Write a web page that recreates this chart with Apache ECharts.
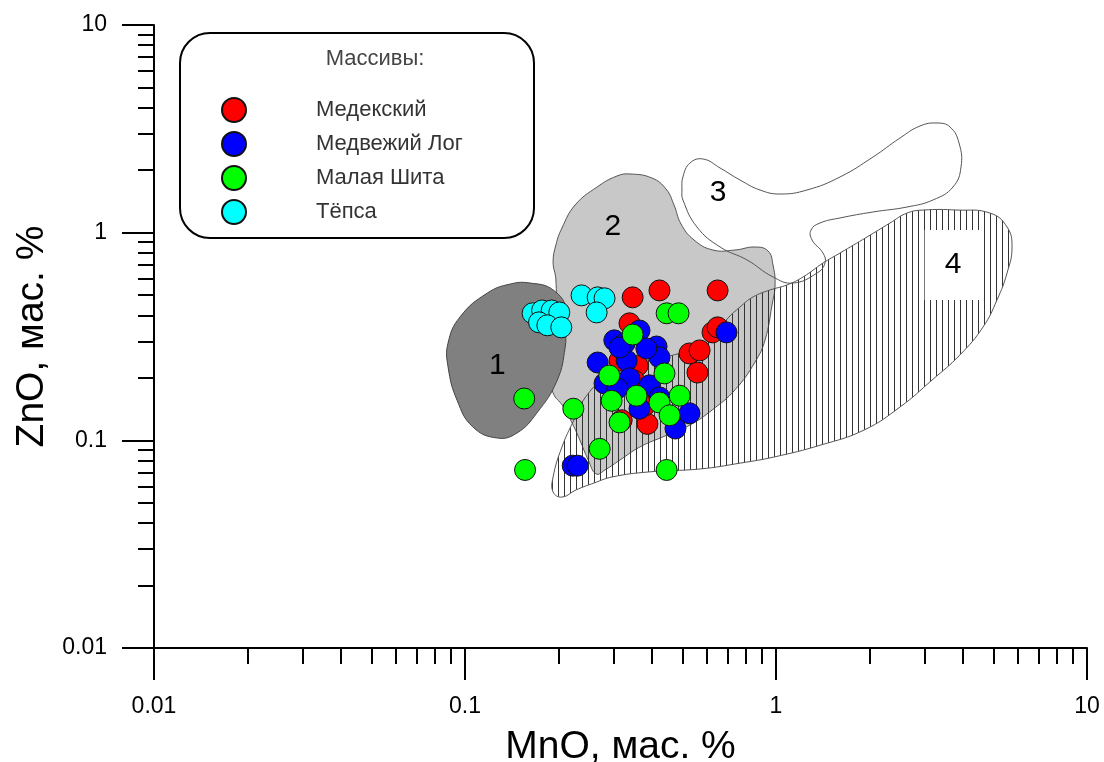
<!DOCTYPE html>
<html><head><meta charset="utf-8">
<script src="https://cdn.jsdelivr.net/npm/echarts@6/dist/echarts.min.js"></script>
<style>html,body{margin:0;padding:0;background:#fff}#c{width:1104px;height:762px}</style>
</head><body><div id="c"></div>
<script>
// ---- data (MnO, ZnO in wt. %) ----
const seriesNames = ['Медекский', 'Медвежий Лог', 'Малая Шита', 'Тёпса'];
const medeksky = [[0.346,0.488],[0.422,0.527],[0.649,0.527],[0.338,0.366],[0.625,0.331],[0.649,0.350],[0.527,0.262],[0.568,0.271],[0.559,0.212],[0.359,0.229],[0.386,0.120],[0.319,0.125],[0.314,0.242],[0.378,0.147],[0.350,0.194]];
const medvezhyLog = [[0.267,0.237],[0.302,0.303],[0.326,0.293],[0.364,0.338],[0.413,0.283],[0.422,0.251],[0.331,0.242],[0.281,0.188],[0.338,0.199],[0.392,0.184],[0.309,0.178],[0.364,0.142],[0.422,0.161],[0.527,0.135],[0.475,0.114],[0.693,0.331],[0.222,0.0755],[0.230,0.0755],[0.314,0.280],[0.383,0.277]];
const malayaShita = [[0.155,0.159],[0.223,0.142],[0.291,0.205],[0.438,0.210],[0.296,0.155],[0.356,0.164],[0.422,0.152],[0.490,0.164],[0.455,0.132],[0.314,0.122],[0.271,0.091],[0.156,0.072],[0.445,0.072],[0.346,0.323],[0.445,0.409],[0.486,0.409]];
const tepsa = [[0.165,0.409],[0.177,0.422],[0.190,0.422],[0.201,0.413],[0.173,0.370],[0.184,0.358],[0.204,0.350],[0.237,0.499],[0.267,0.488],[0.281,0.483],[0.265,0.413]];

// discrimination fields (outline vertices in MnO, ZnO)
const field1 = [[0.162,0.572],[0.192,0.530],[0.213,0.424],[0.211,0.340],[0.210,0.281],[0.198,0.195],[0.170,0.135],[0.147,0.1085],[0.127,0.1026],[0.106,0.116],[0.0943,0.156],[0.0882,0.226],[0.0882,0.294],[0.0964,0.393],[0.118,0.512],[0.140,0.566]];
const field2 = [[0.339,1.917],[0.399,1.833],[0.443,1.623],[0.470,1.359],[0.495,1.101],[0.545,0.922],[0.627,0.825],[0.738,0.825],[0.856,0.853],[0.943,0.816],[0.978,0.699],[0.993,0.560],[0.971,0.448],[0.922,0.304],[0.856,0.238],[0.738,0.175],[0.623,0.140],[0.529,0.1185],[0.440,0.105],[0.365,0.0929],[0.315,0.0804],[0.282,0.0720],[0.264,0.0689],[0.249,0.0804],[0.234,0.1004],[0.221,0.1212],[0.2065,0.1463],[0.192,0.169],[0.181,0.244],[0.195,0.424],[0.196,0.592],[0.192,0.722],[0.196,0.872],[0.205,1.053],[0.226,1.359],[0.266,1.660],[0.308,1.874]];
const field3 = [[0.502,1.437],[0.557,1.065],[0.661,0.853],[0.807,0.739],[0.978,0.612],[1.134,0.572],[1.355,0.639],[1.437,0.714],[1.416,0.798],[1.306,0.922],[1.296,1.030],[1.385,1.113],[1.606,1.177],[2.051,1.258],[2.638,1.329],[3.198,1.437],[3.708,1.660],[3.935,2.071],[3.877,2.702],[3.627,3.227],[3.294,3.374],[2.904,3.263],[2.505,2.857],[2.051,2.314],[1.606,1.854],[1.258,1.605],[1.030,1.535],[0.888,1.605],[0.766,1.793],[0.661,2.048],[0.583,2.263],[0.529,2.165],[0.502,1.854],[0.4985,1.605]];
const field4 = [[0.224,0.1253],[0.243,0.160],[0.282,0.1995],[0.365,0.238],[0.456,0.255],[0.570,0.285],[0.641,0.325],[0.701,0.388],[0.766,0.4385],[0.843,0.490],[0.957,0.530],[1.085,0.560],[1.222,0.612],[1.416,0.714],[1.606,0.798],[1.962,0.953],[2.326,1.113],[2.638,1.243],[2.970,1.285],[3.819,1.285],[4.876,1.243],[5.532,1.065],[5.740,0.853],[5.532,0.639],[5.135,0.474],[4.630,0.351],[3.905,0.258],[3.174,0.195],[2.505,0.1447],[1.919,0.1121],[1.396,0.0950],[0.985,0.0831],[0.772,0.0778],[0.570,0.0728],[0.388,0.0704],[0.297,0.0666],[0.260,0.0623],[0.2275,0.0577],[0.205,0.0533],[0.192,0.0564],[0.192,0.0666],[0.205,0.0929]];
const fieldLabels = ['1', '2', '3', '4'];
const fieldLabelPos = [[0.127,0.228],[0.299,1.065],[0.651,1.552],[3.708,0.699]];

const majorTicks = [0.01, 0.1, 1, 10];
const minorMultipliers = [2, 3, 4, 5, 6, 7, 8, 9];
const minorTicks = [];
majorTicks.slice(0, -1).forEach(d => minorMultipliers.forEach(m => minorTicks.push(+(d * m).toPrecision(3))));

// ---- styles ----
const FONT = '"Liberation Sans", Arial, sans-serif';
const hatch = document.createElement('canvas');
hatch.width = 6; hatch.height = 6;
(function () {
  const g = hatch.getContext('2d');
  g.strokeStyle = '#333'; g.lineWidth = 1;
  g.beginPath(); g.moveTo(0.5, 0); g.lineTo(0.5, 6); g.stroke();
})();

function polySeries(name, pts, style, z) {
  return {
    type: 'custom', name: name, data: pts, z: z, silent: true,
    encode: { x: 0, y: 1 },
    renderItem: function (params, api) {
      if (params.dataIndex !== 0) return null;
      const points = pts.map(p => api.coord(p));
      return { type: 'polygon', shape: { points: points, smooth: 0.45 }, style: style };
    }
  };
}

const colors = ['#ff0000', '#0000ff', '#00ff00', '#00ffff'];
const groups = [medeksky, medvezhyLog, malayaShita, tepsa];

function axisBase(extra) {
  return Object.assign({
    type: 'log', logBase: 10, min: 0.01, max: 10,
    splitLine: { show: false }, minorSplitLine: { show: false }
  }, extra);
}
const labelFmt = v => String(+(+v).toPrecision(3));

const option = {
  animation: false,
  backgroundColor: '#fff',
  textStyle: { fontFamily: FONT },
  grid: { left: 154, right: 17, top: 25, bottom: 114, containLabel: false, outerBoundsMode: 'none' },
  xAxis: [
    axisBase({
      position: 'bottom',
      axisLine: { show: true, lineStyle: { color: '#000', width: 2 } },
      axisTick: { show: true, inside: false, length: 32, customValues: majorTicks, lineStyle: { color: '#000', width: 2 } },
      axisLabel: { show: true, customValues: majorTicks, margin: 47, fontSize: 23, color: '#000', fontFamily: FONT, formatter: labelFmt },
      name: 'MnO, мас. %', nameLocation: 'middle', nameGap: 80,
      nameTextStyle: { fontSize: 39, color: '#000', fontFamily: FONT }
    }),
    axisBase({
      position: 'bottom',
      axisLine: { show: false },
      axisTick: { show: true, inside: false, length: 16, customValues: minorTicks, lineStyle: { color: '#000', width: 2 } },
      axisLabel: { show: false }
    })
  ],
  yAxis: [
    axisBase({
      position: 'left',
      axisLine: { show: true, lineStyle: { color: '#000', width: 2 } },
      axisTick: { show: true, inside: false, length: 32, customValues: majorTicks, lineStyle: { color: '#000', width: 2 } },
      axisLabel: { show: true, customValues: majorTicks, margin: 47, fontSize: 23, color: '#000', fontFamily: FONT, formatter: labelFmt },
      name: 'ZnO, мас. %', nameLocation: 'middle', nameGap: 102,
      nameTextStyle: { fontSize: 39, color: '#000', fontFamily: FONT }
    }),
    axisBase({
      position: 'left',
      axisLine: { show: false },
      axisTick: { show: true, inside: false, length: 16, customValues: minorTicks, lineStyle: { color: '#000', width: 2 } },
      axisLabel: { show: false }
    })
  ],
  legend: {
    orient: 'vertical', left: 216, top: 92, itemWidth: 24, itemHeight: 24, itemGap: 8,
    icon: 'circle', selectedMode: false, data: seriesNames,
    textStyle: { fontSize: 22, color: '#333', fontFamily: FONT, padding: [0, 0, 0, 65] }
  },
  graphic: [
    { type: 'rect', z: 0, shape: { x: 180, y: 33, width: 354, height: 205, r: 30 }, style: { fill: '#fff', stroke: '#000', lineWidth: 2 } },
    { type: 'text', z: 1, x: 375, y: 59, style: { text: 'Массивы:', font: '22px ' + FONT, fill: '#444', align: 'center', verticalAlign: 'middle', textAlign: 'center', textVerticalAlign: 'middle' } }
  ],
  series: [
    polySeries('field2', field2, { fill: '#c8c8c8', stroke: '#555', lineWidth: 1 }, 1),
    polySeries('field4', field4, { fill: { image: hatch, repeat: 'repeat' }, stroke: '#555', lineWidth: 1 }, 2),
    polySeries('field3', field3, { fill: 'none', stroke: '#555', lineWidth: 1 }, 3),
    polySeries('field1', field1, { fill: '#808080', stroke: '#444', lineWidth: 1 }, 4),
    {
      type: 'custom', name: 'fieldLabels', data: fieldLabelPos, z: 5, silent: true,
      encode: { x: 0, y: 1 },
      renderItem: function (params, api) {
        const p = api.coord([api.value(0), api.value(1)]);
        const t = fieldLabels[params.dataIndex];
        const boxed = t === '4';
        return {
          type: 'text', x: p[0], y: p[1],
          style: {
            text: t, font: '30px ' + FONT, fill: '#000', align: 'center', verticalAlign: 'middle',
            backgroundColor: boxed ? '#fff' : null, padding: boxed ? [20, 20, 20, 20] : 0
          }
        };
      }
    }
  ].concat(groups.map((g, i) => ({
    type: 'scatter', name: seriesNames[i], data: g, z: 10 + i,
    symbol: 'circle', symbolSize: 21,
    itemStyle: { color: colors[i], borderColor: '#111', borderWidth: 1, opacity: 1 }
  })))
};

const chart = echarts.init(document.getElementById('c'), null, { renderer: 'canvas' });
chart.setOption(option);
</script>
</body></html>
